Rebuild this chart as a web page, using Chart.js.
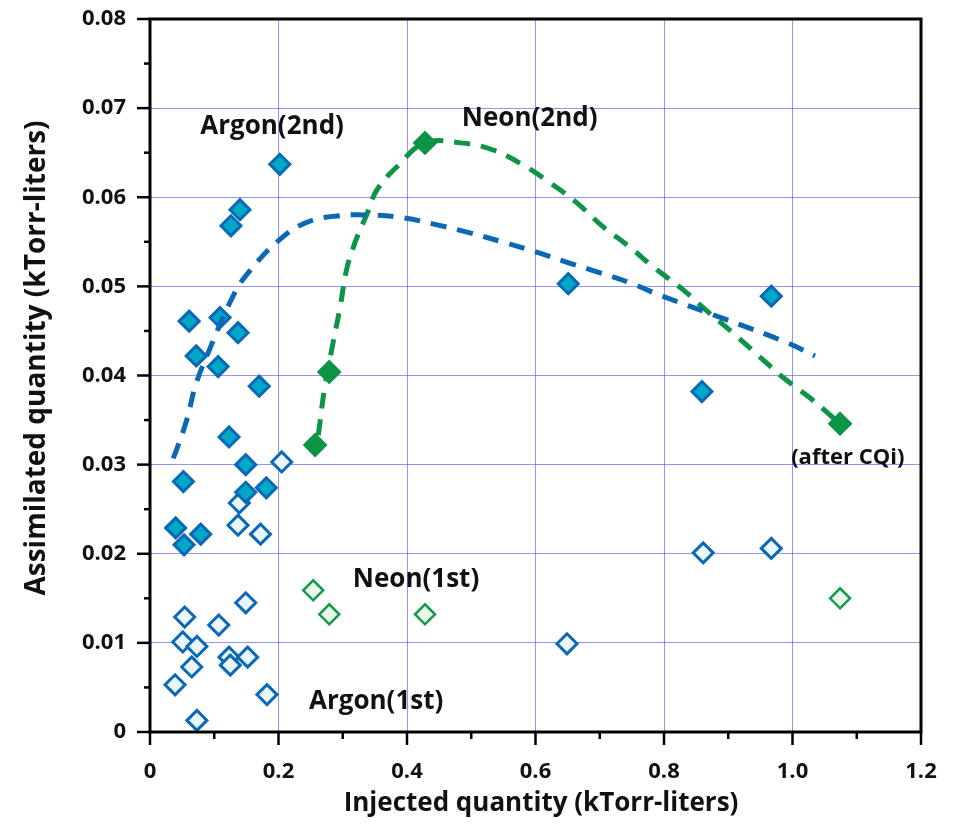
<!DOCTYPE html>
<html><head><meta charset="utf-8">
<script src="https://cdn.jsdelivr.net/npm/chart.js@4"></script>
<style>html,body{margin:0;padding:0;background:#fff}</style>
</head><body>
<canvas id="c" width="956" height="825"></canvas>
<script>
// ---- data ----
const argon2X = [0.202,0.140,0.126,0.061,0.109,0.137,0.072,0.106,0.170,0.123,0.149,0.149,0.181,0.052,0.040,0.079,0.053,0.651,0.859,0.967];
const argon2Y = [0.0637,0.0586,0.0568,0.0461,0.0465,0.0448,0.0422,0.0410,0.0388,0.0331,0.0300,0.0269,0.0274,0.0281,0.0229,0.0222,0.0210,0.0503,0.0382,0.0489];
const argon1X = [0.205,0.139,0.137,0.172,0.054,0.107,0.149,0.051,0.073,0.123,0.125,0.152,0.065,0.039,0.182,0.073,0.649,0.861,0.967];
const argon1Y = [0.0303,0.0257,0.0232,0.0222,0.0129,0.0120,0.0145,0.0101,0.0096,0.0084,0.0075,0.0084,0.0073,0.0053,0.0042,0.0013,0.0099,0.0201,0.0206];
const neon2X = [0.257,0.279,0.428,1.074];
const neon2Y = [0.0322,0.0404,0.0661,0.0346];
const neon1X = [0.254,0.279,0.428,1.074];
const neon1Y = [0.0159,0.0132,0.0132,0.0150];
const argonFitX = [0.036,0.041,0.058,0.070,0.089,0.132,0.156,0.198,0.241,0.291,0.347,0.394,0.447,0.498,0.548,0.599,0.649,0.697,0.747,0.794,0.892,0.991,1.035];
const argonFitY = [0.0307,0.0316,0.0352,0.0387,0.0423,0.0493,0.0518,0.0550,0.0571,0.0579,0.0580,0.0577,0.0569,0.0560,0.0550,0.0539,0.0527,0.0516,0.0504,0.0490,0.0464,0.0437,0.0422];
const neonFitX = [0.262,0.272,0.285,0.296,0.306,0.319,0.337,0.353,0.384,0.428,0.483,0.534,0.581,0.623,0.664,0.705,0.747,0.783,0.830,0.869,0.907,0.949,0.985,1.027,1.074];
const neonFitY = [0.0333,0.0387,0.0437,0.0477,0.0519,0.0549,0.0580,0.0608,0.0634,0.0661,0.0661,0.0653,0.0636,0.0616,0.0594,0.0567,0.0544,0.0522,0.0496,0.0471,0.0448,0.0421,0.0398,0.0375,0.0346];
const xTickLabels = ['0','0.2','0.4','0.6','0.8','1.0','1.2'];
const yTickLabels = ['0','0.01','0.02','0.03','0.04','0.05','0.06','0.07','0.08'];
const xMinorTicks = [0.1,0.3,0.5,0.7,0.9,1.1];
const yMinorTicks = [0.005,0.015,0.025,0.035,0.045,0.055,0.065,0.075];
const xTitle = 'Injected quantity (kTorr-liters)';
const yTitle = 'Assimilated quantity (kTorr-liters)';
const labelTexts = ['Argon(2nd)','Neon(2nd)','Neon(1st)','Argon(1st)','(after CQi)'];
const labelX = [0.190,0.591,0.414,0.352,1.086];
const labelY = [0.0679,0.0688,0.0171,0.0034,0.0308];

const zip = (xs, ys) => xs.map((x, i) => ({x, y: ys[i]}));
const FONT = "'Open Sans', 'Noto Sans', sans-serif";

const extras = {
  id: 'extras',
  afterDatasetsDraw(chart) {
    const {ctx, chartArea: a, scales: {x, y}} = chart;
    ctx.save();
    ctx.strokeStyle = '#000';
    ctx.lineWidth = 3;
    ctx.strokeRect(a.left, a.top, a.right - a.left, a.bottom - a.top);
    ctx.lineWidth = 2.5;
    const seg = (x1, y1, x2, y2) => { ctx.beginPath(); ctx.moveTo(x1, y1); ctx.lineTo(x2, y2); ctx.stroke(); };
    xTickLabels.forEach((t, i) => { const px = x.getPixelForValue(i * 0.2); seg(px, a.bottom, px, a.bottom + 13); });
    xMinorTicks.forEach(v => { const px = x.getPixelForValue(v); seg(px, a.bottom, px, a.bottom + 7); });
    yTickLabels.forEach((t, i) => { const py = y.getPixelForValue(i * 0.01); seg(a.left - 13, py, a.left, py); });
    yMinorTicks.forEach(v => { const py = y.getPixelForValue(v); seg(a.left - 6, py, a.left, py); });
    ctx.fillStyle = '#111';
    ctx.textAlign = 'center';
    ctx.textBaseline = 'middle';
    labelTexts.forEach((t, i) => {
      ctx.font = 'bold ' + (i === 4 ? 22 : 26) + 'px ' + FONT;
      ctx.fillText(t, x.getPixelForValue(labelX[i]), y.getPixelForValue(labelY[i]));
    });
    // axis titles
    ctx.font = 'bold 26px ' + FONT;
    ctx.fillText(xTitle, 541, 804);
    ctx.save();
    ctx.translate(37, 358);
    ctx.rotate(-Math.PI / 2);
    ctx.font = 'bold 28px ' + FONT;
    ctx.fillText(yTitle, 0, 0);
    ctx.restore();
    ctx.restore();
  }
};

const gridColor = 'rgba(60,60,255,0.55)';
new Chart(document.getElementById('c'), {
  type: 'scatter',
  data: {
    datasets: [
      {label: 'Argon fit', data: zip(argonFitX, argonFitY), showLine: true, pointRadius: 0,
       borderColor: '#0b68b4', borderWidth: 5, borderDash: [16, 11], tension: 0.4, fill: false},
      {label: 'Neon fit', data: zip(neonFitX, neonFitY), showLine: true, pointRadius: 0,
       borderColor: '#0c9447', borderWidth: 5, borderDash: [16, 11], tension: 0.4, fill: false},
      {label: 'Neon(2nd)', data: zip(neon2X, neon2Y), pointStyle: 'rectRot', pointRadius: 11,
       backgroundColor: '#0c9447', borderColor: '#0c9447', borderWidth: 2},
      {label: 'Argon(2nd)', data: zip(argon2X, argon2Y), pointStyle: 'rectRot', pointRadius: 10,
       backgroundColor: '#00a8c8', borderColor: '#0b68b4', borderWidth: 3},
      {label: 'Neon(1st)', data: zip(neon1X, neon1Y), pointStyle: 'rectRot', pointRadius: 10,
       backgroundColor: '#ebf6ea', borderColor: '#12994a', borderWidth: 2.5},
      {label: 'Argon(1st)', data: zip(argon1X, argon1Y), pointStyle: 'rectRot', pointRadius: 10,
       backgroundColor: '#eaf6f8', borderColor: '#0b68b4', borderWidth: 3}
    ]
  },
  options: {
    responsive: false,
    animation: false,
    layout: {padding: {left: 0, top: 19, right: 35, bottom: 0}},
    plugins: {legend: {display: false}, tooltip: {enabled: false}},
    scales: {
      x: {
        type: 'linear', min: 0, max: 1.2,
        afterFit: s => { s.height = 93; s.paddingLeft = 0; s.paddingRight = 0; },
        border: {display: false},
        grid: {drawTicks: false, color: c => (c.tick && c.tick.value > 0.001 && c.tick.value < 1.19) ? gridColor : 'rgba(0,0,0,0)', lineWidth: 1},
        ticks: {stepSize: 0.2, padding: 27, color: '#111', font: {family: FONT, size: 22, weight: 'bold'},
                callback: (v, i) => xTickLabels[i]},
        title: {display: false, text: xTitle}
      },
      y: {
        type: 'linear', min: 0, max: 0.08,
        afterFit: s => { s.width = 150; s.paddingTop = 0; s.paddingBottom = 0; },
        border: {display: false},
        grid: {drawTicks: false, color: c => (c.tick && c.tick.value > 0.0001 && c.tick.value < 0.0799) ? gridColor : 'rgba(0,0,0,0)', lineWidth: 1},
        ticks: {stepSize: 0.01, padding: 24, color: '#111', font: {family: FONT, size: 22, weight: 'bold'},
                callback: (v, i) => yTickLabels[i]},
        title: {display: false, text: yTitle}
      }
    }
  },
  plugins: [extras]
});
</script>
</body></html>
